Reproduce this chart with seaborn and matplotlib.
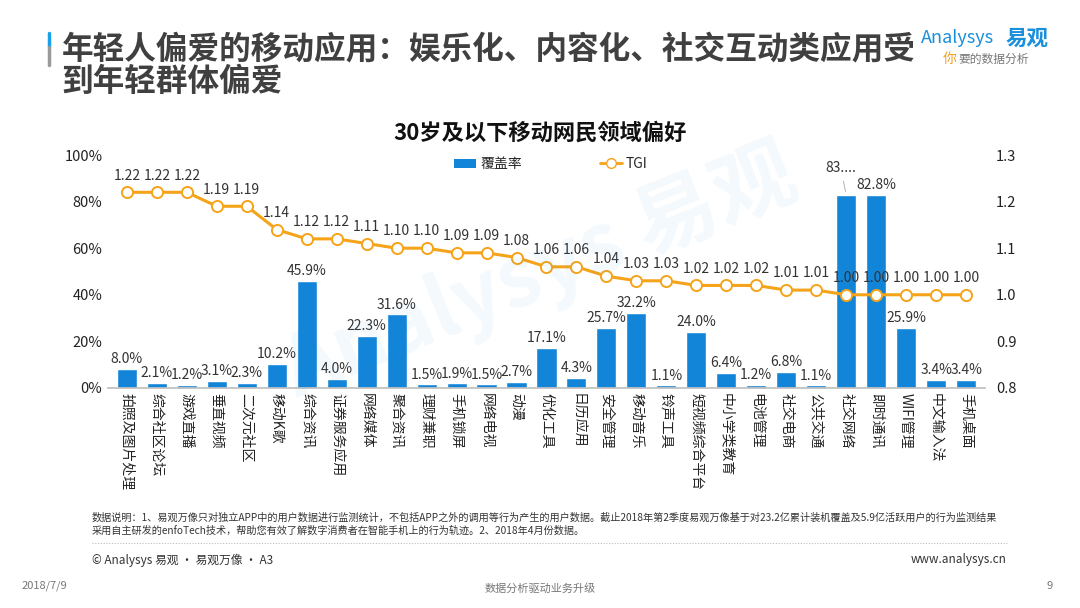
import matplotlib
matplotlib.use("Agg")
import matplotlib.pyplot as plt
import numpy as np
import pandas as pd
import seaborn as sns
from matplotlib.lines import Line2D
from matplotlib.patches import Patch

# 30岁及以下移动网民领域偏好：覆盖率（柱）和 TGI（折线）
categories = ["拍照及图片处理", "综合社区论坛", "游戏直播", "垂直视频", "二次元社区", "移动K歌",
              "综合资讯", "证券服务应用", "网络媒体", "聚合资讯", "理财兼职", "手机锁屏",
              "网络电视", "动漫", "优化工具", "日历应用", "安全管理", "移动音乐", "铃声工具",
              "短视频综合平台", "中小学类教育", "电池管理", "社交电商", "公共交通", "社交网络",
              "即时通讯", "WIFI管理", "中文输入法", "手机桌面"]
coverage = [8.0, 2.1, 1.2, 3.1, 2.3, 10.2, 45.9, 4.0, 22.3, 31.6, 1.5, 1.9, 1.5, 2.7, 17.1,
            4.3, 25.7, 32.2, 1.1, 24.0, 6.4, 1.2, 6.8, 1.1, 83.0, 82.8, 25.9, 3.4, 3.4]
tgi = [1.22, 1.22, 1.22, 1.19, 1.19, 1.14, 1.12, 1.12, 1.11, 1.10, 1.10, 1.09, 1.09, 1.08,
       1.06, 1.06, 1.04, 1.03, 1.03, 1.02, 1.02, 1.02, 1.01, 1.01, 1.00, 1.00, 1.00, 1.00, 1.00]
cov_labels = [f"{v:.1f}%" for v in coverage]
cov_labels[24] = "83...."

sns.set_theme(style="white")
plt.rcParams["font.family"] = ["Noto Sans CJK SC", "DejaVu Sans"]
plt.rcParams["axes.unicode_minus"] = False

BLUE = "#1385d9"
ORANGE = "#f5a319"
DARK = "#404040"

df = pd.DataFrame({"cat": categories, "cov": coverage, "tgi": tgi, "pos": np.arange(len(categories))})

fig = plt.figure(figsize=(10.8, 6.08), dpi=100)
ax = fig.add_axes([0.1, 0.362, 0.812, 0.383])

sns.barplot(data=df, x="cat", y="cov", color=BLUE, width=0.67, saturation=1, ax=ax)
ax.set_ylim(0, 100)
ax.set_xlim(-0.63, len(categories) - 0.37)
ax.set_yticks(range(0, 101, 20))
ax.set_yticklabels([f"{t}%" for t in range(0, 101, 20)], fontsize=10.5, color="#222222")
ax.set_xlabel("")
ax.set_ylabel("")
ax.set_xticks(range(len(categories)))
ax.set_xticklabels(categories, rotation=-90, fontsize=10, color="#222222", va="top", ha="center")
ax.tick_params(axis="both", length=0, pad=4)
for s in ["top", "left", "right"]:
    ax.spines[s].set_visible(False)
ax.spines["bottom"].set_color("#bfbfbf")

for i, (v, lab) in enumerate(zip(coverage, cov_labels)):
    if i == 24:
        ax.annotate(lab, xy=(i, v), xytext=(-4, 14), textcoords="offset points",
                    ha="center", va="bottom", fontsize=10, color="#333333",
                    arrowprops=dict(arrowstyle="-", color="#aaaaaa", lw=0.6))
    else:
        ax.annotate(lab, xy=(i, v), xytext=(0, 2), textcoords="offset points",
                    ha="center", va="bottom", fontsize=10, color="#333333")

ax2 = ax.twinx()
sns.lineplot(data=df, x="pos", y="tgi", color=ORANGE, lw=2.2, marker="o", markersize=8,
             markerfacecolor="white", markeredgecolor=ORANGE, markeredgewidth=1.4, ax=ax2)
ax2.set_ylim(0.8, 1.3)
ax2.set_yticks([0.8, 0.9, 1.0, 1.1, 1.2, 1.3])
ax2.set_yticklabels([f"{t:.1f}" for t in [0.8, 0.9, 1.0, 1.1, 1.2, 1.3]], fontsize=10.5, color="#222222")
ax2.set_ylabel("")
ax2.set_xlabel("")
ax2.tick_params(axis="y", length=0, pad=8)
for s in ["top", "left", "right", "bottom"]:
    ax2.spines[s].set_visible(False)
ax2.grid(False)
for i, v in enumerate(tgi):
    ax2.annotate(f"{v:.2f}", xy=(i, v), xytext=(0, 7), textcoords="offset points",
                 ha="center", va="bottom", fontsize=10, color="#333333")

handles = [Patch(facecolor=BLUE, edgecolor="none"),
           Line2D([0], [0], color=ORANGE, lw=2, marker="o", markersize=7,
                  markerfacecolor="white", markeredgecolor=ORANGE)]
ax.legend(handles, ["覆盖率", "TGI"], loc="center", bbox_to_anchor=(0.505, 0.96), ncol=2,
          frameon=False, fontsize=10, columnspacing=5.6, handlelength=1.6, handletextpad=0.3)

fig.text(0.5, 0.781, "30岁及以下移动网民领域偏好", ha="center", va="center",
         fontsize=16, fontweight="bold", color="#111111")

# 页面标题
fig.text(0.057, 0.918, "年轻人偏爱的移动应用：娱乐化、内容化、社交互动类应用受", ha="left", va="center",
         fontsize=22.8, fontweight="bold", color=DARK)
fig.text(0.057, 0.865, "到年轻群体偏爱", ha="left", va="center",
         fontsize=22.8, fontweight="bold", color=DARK)
fig.add_artist(Line2D([0.045, 0.045], [0.945, 0.922], color="#1aa0e8", lw=2.5))
fig.add_artist(Line2D([0.045, 0.045], [0.922, 0.893], color="#9a9a9a", lw=2.5))

# logo
fig.text(0.853, 0.937, "Analysys", ha="left", va="center", fontsize=13, color="#1a8fdc", style="italic")
fig.text(0.931, 0.937, "易观", ha="left", va="center", fontsize=15.5, color="#1a8fdc", fontweight="bold")
fig.text(0.873, 0.903, "你", ha="left", va="center", fontsize=10, color="#f0a020")
fig.text(0.887, 0.903, "要的数据分析", ha="left", va="center", fontsize=8.5, color="#777777", style="italic")

# 水印
fig.text(0.5, 0.55, "Analysys 易观", ha="center", va="center", fontsize=60, color="#1a8fdc",
         alpha=0.05, rotation=22, fontweight="bold")

# 底部说明
fig.text(0.085, 0.148, "数据说明：1、易观万像只对独立APP中的用户数据进行监测统计，不包括APP之外的调用等行为产生的用户数据。截止2018年第2季度易观万像基于对23.2亿累计装机覆盖及5.9亿活跃用户的行为监测结果",
         ha="left", va="center", fontsize=7.3, color="#333333")
fig.text(0.085, 0.127, "采用自主研发的enfoTech技术，帮助您有效了解数字消费者在智能手机上的行为轨迹。2、2018年4月份数据。",
         ha="left", va="center", fontsize=7.3, color="#333333")
fig.add_artist(Line2D([0.085, 0.932], [0.107, 0.107], color="#bbbbbb", lw=0.8, ls=(0, (1, 1.5))))
fig.text(0.085, 0.079, "© Analysys 易观 · 易观万像 · A3", ha="left", va="center", fontsize=8.5, color="#333333")
fig.text(0.932, 0.079, "www.analysys.cn", ha="right", va="center", fontsize=8.5, color="#333333")
fig.text(0.02, 0.037, "2018/7/9", ha="left", va="center", fontsize=8, color="#777777")
fig.text(0.5, 0.033, "数据分析驱动业务升级", ha="center", va="center", fontsize=8, color="#777777")
fig.text(0.972, 0.037, "9", ha="center", va="center", fontsize=8, color="#777777")

fig.savefig("out.png", dpi=100)
